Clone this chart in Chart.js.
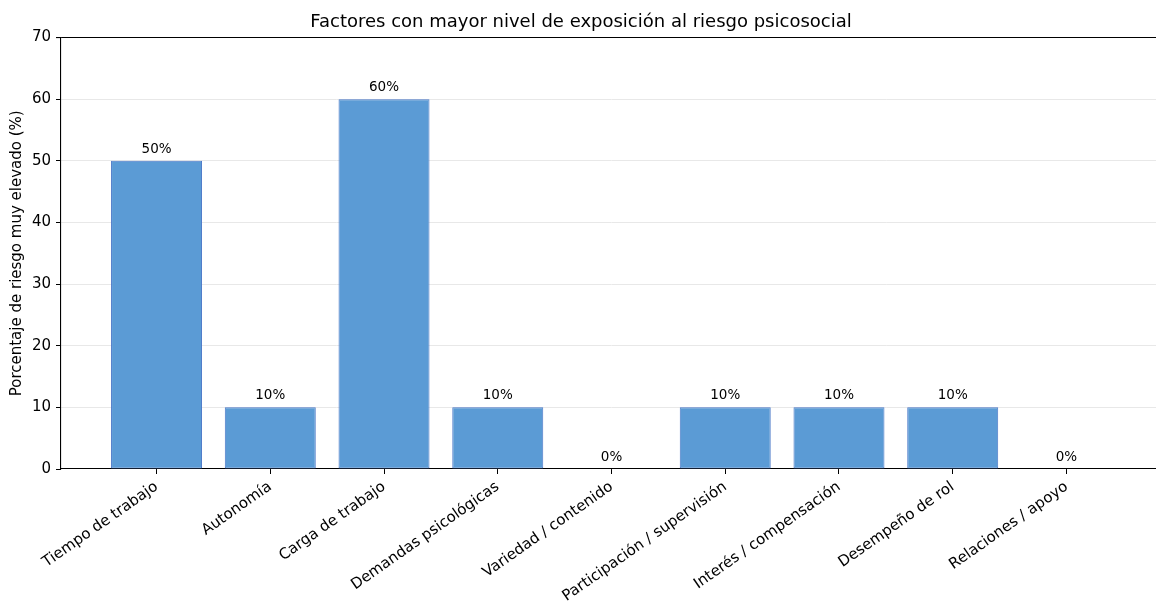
<!DOCTYPE html>
<html>
<head>
<meta charset="utf-8">
<script src="https://cdn.jsdelivr.net/npm/chart.js@4/dist/chart.umd.min.js"></script>
<style>
  html, body { margin: 0; padding: 0; background: #fff; overflow: hidden; }
  #wrap { width: 1162px; height: 601px; }
</style>
</head>
<body>
<div id="wrap"><canvas id="c" width="1162" height="601"></canvas></div>
<script>
// Psychosocial risk factors and share of "very high" risk level
const categories = [
  'Tiempo de trabajo',
  'Autonomía',
  'Carga de trabajo',
  'Demandas psicológicas',
  'Variedad / contenido',
  'Participación / supervisión',
  'Interés / compensación',
  'Desempeño de rol',
  'Relaciones / apoyo'
];
const percentages = [50, 10, 60, 10, 0, 10, 10, 10, 0];
const yTicks = [0, 10, 20, 30, 40, 50, 60, 70];

const FONT = 'DejaVu Sans';

// Value labels above each bar
const barLabels = {
  id: 'barLabels',
  afterDatasetsDraw(chart) {
    const ctx = chart.ctx;
    const meta = chart.getDatasetMeta(0);
    const data = chart.data.datasets[0].data;
    ctx.save();
    ctx.font = '13.5px "' + FONT + '"';
    ctx.fillStyle = '#000';
    ctx.textAlign = 'center';
    ctx.textBaseline = 'bottom';
    meta.data.forEach((bar, i) => {
      ctx.fillText(data[i].y + '%', bar.x, bar.y - 5);
    });
    ctx.restore();
  }
};

new Chart(document.getElementById('c'), {
  type: 'bar',
  data: {
    datasets: [{
      data: categories.map((c, i) => ({ x: i, y: percentages[i] })),
      backgroundColor: '#5b9bd5',
      borderColor: '#4a78c8',
      borderWidth: 1,
      borderSkipped: false,
      barPercentage: 0.8,
      categoryPercentage: 1.0
    }]
  },
  options: {
    responsive: false,
    animation: false,
    layout: { padding: 0 },
    plugins: {
      legend: { display: false },
      tooltip: { enabled: false },
      title: {
        display: true,
        text: 'Factores con mayor nivel de exposición al riesgo psicosocial',
        color: '#000',
        font: { family: FONT, size: 18, weight: 'normal' },
        padding: { top: 12, bottom: 4 }
      }
    },
    scales: {
      x: {
        type: 'linear',
        offset: false,
        min: -0.84,
        max: 8.84,
        afterBuildTicks(scale) {
          scale.ticks = categories.map((c, i) => ({ value: i }));
        },
        afterFit(scale) { scale.height = 132; },
        ticks: {
          autoSkip: false,
          maxRotation: 35,
          minRotation: 35,
          padding: 4,
          color: '#000',
          font: { family: FONT, size: 15 },
          callback: (v) => categories[v]
        },
        grid: {
          offset: false,
          drawOnChartArea: false,
          drawTicks: true,
          tickLength: 5,
          tickColor: '#000',
          color: '#000'
        },
        border: { display: true, color: '#000', width: 1.1 }
      },
      y: {
        min: 0,
        max: 70,
        afterBuildTicks(scale) {
          scale.ticks = yTicks.map(v => ({ value: v }));
        },
        afterFit(scale) { scale.width = 61; },
        ticks: {
          padding: 5,
          color: '#000',
          font: { family: FONT, size: 15 }
        },
        grid: {
          drawTicks: true,
          tickLength: 5,
          tickColor: '#000',
          color: (c) => c.tick && c.tick.value === 70 ? '#000'
                     : (c.tick && c.tick.value === 0 ? 'rgba(0,0,0,0)' : '#e8e8e8'),
          lineWidth: (c) => c.tick && c.tick.value === 70 ? 1.1 : 1
        },
        border: { display: true, color: '#000', width: 1.1 },
        title: {
          display: true,
          text: 'Porcentaje de riesgo muy elevado (%)',
          color: '#000',
          font: { family: FONT, size: 15 },
          padding: { top: 8, bottom: 0 }
        }
      }
    }
  },
  plugins: [barLabels]
});
</script>
</body>
</html>
